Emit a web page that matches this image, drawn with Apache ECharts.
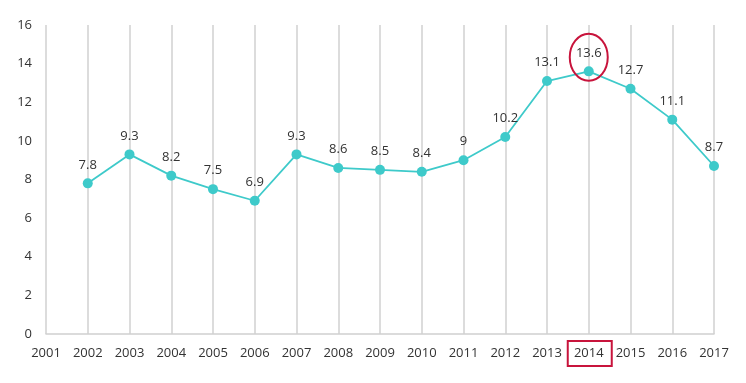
<!DOCTYPE html>
<html><head><meta charset="utf-8">
<script src="https://cdn.jsdelivr.net/npm/echarts@6/dist/echarts.min.js"></script>
<style>html,body{margin:0;padding:0;background:#fff}#c{width:746px;height:383px}</style>
</head><body><div id="c"></div>
<script>
var years = ['2001','2002','2003','2004','2005','2006','2007','2008','2009','2010','2011','2012','2013','2014','2015','2016','2017'];
var values = [null,7.8,9.3,8.2,7.5,6.9,9.3,8.6,8.5,8.4,9,10.2,13.1,13.6,12.7,11.1,8.7];
var highlightYear = '2014';
var yMin = 0, yMax = 16, yStep = 2;

var chart = echarts.init(document.getElementById('c'), null, {renderer:'canvas'});
var font = '"Open Sans", "Liberation Sans", sans-serif';
chart.setOption({
  animation:false,
  grid:{left:46,right:32,top:25,bottom:49},
  xAxis:{type:'category',data:years,boundaryGap:false,
    axisLine:{show:true,lineStyle:{color:'#d0d0d0',width:1.5}},
    axisTick:{show:false},
    axisLabel:{color:'#333',fontSize:13,fontFamily:font,margin:13},
    splitLine:{show:true,lineStyle:{color:'#d0d0d0',width:1.5}}},
  yAxis:{type:'value',min:yMin,max:yMax,interval:yStep,
    axisLine:{show:false},axisTick:{show:false},
    axisLabel:{color:'#333',fontSize:13,fontFamily:font,margin:14},
    splitLine:{show:false}},
  series:[{type:'line',data:values,connectNulls:false,
    symbol:'circle',symbolSize:10,
    itemStyle:{color:'#3ECACA'},lineStyle:{color:'#3ECACA',width:1.8},
    label:{show:true,position:'top',distance:7,color:'#333',fontSize:13,fontFamily:font}}]
});
var idx = years.indexOf(highlightYear);
var p = chart.convertToPixel({xAxisIndex:0,yAxisIndex:0},[idx, values[idx]]);
var base = chart.convertToPixel({xAxisIndex:0,yAxisIndex:0},[idx, 0]);
chart.setOption({graphic:[
  {type:'ellipse',shape:{cx:p[0],cy:p[1]-14,rx:19,ry:23.5},style:{fill:null,stroke:'#C8143C',lineWidth:2},z:100},
  {type:'rect',shape:{x:base[0]-21,y:base[1]+7,width:44,height:25},style:{fill:null,stroke:'#C8143C',lineWidth:2},z:100}
]});
</script></body></html>
